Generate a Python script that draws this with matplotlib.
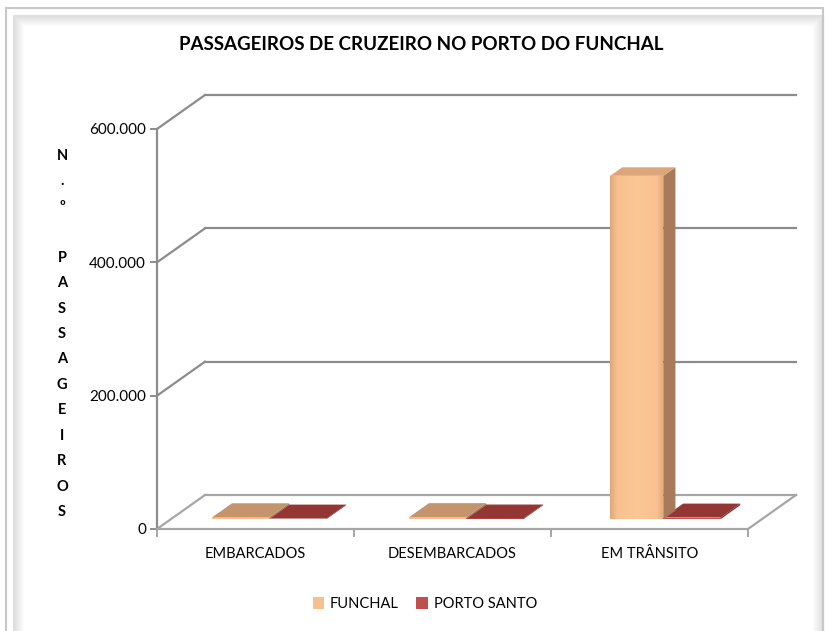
import numpy as np
import matplotlib.pyplot as plt
from matplotlib.patches import Polygon, Rectangle, Patch

plt.rcParams['font.family'] = ['Lato', 'DejaVu Sans']

categories = ['EMBARCADOS', 'DESEMBARCADOS', 'EM TRÂNSITO']
series_names = ['FUNCHAL', 'PORTO SANTO']
funchal = [2900, 3100, 515000]
porto_santo = [900, 1000, 2400]
y_ticks = [0, 200000, 400000, 600000]
y_tick_labels = ['0', '200.000', '400.000', '600.000']

# fake 3d: how far the back wall sits from the front plane, in data units
DEPTH_X = 0.2437
DEPTH_Y = 51000
BAR_W = 0.29
D_FRONT, D_BACK = 0.29, 0.70

front_cols = ['#F9C08F', '#C0504D']
side_cols = ['#A67A5A', '#7A2B29']
top_cols = ['#C4956C', '#943634']
grid_col = '#8C8C8C'
floor_col = '#A6A6A6'


def dep(x, y, d):
  return (x + DEPTH_X * d, y + DEPTH_Y * d)


def draw_bar(ax, left, value, i):
  right = left + BAR_W
  d0, d1 = D_FRONT, D_BACK
  if value > 50000:
    # the tall column is drawn a bit narrower in depth, like the bevelled excel column
    d1 = D_FRONT + 0.25
    left = left + 0.02
  front = [dep(left, 0, d0), dep(right, 0, d0), dep(right, value, d0), dep(left, value, d0)]
  side = [dep(right, 0, d0), dep(right, 0, d1), dep(right, value, d1), dep(right, value, d0)]
  top = [dep(left, value, d0), dep(right, value, d0), dep(right, value, d1), dep(left, value, d1)]
  ax.add_patch(Polygon(side, closed=True, facecolor=side_cols[i], edgecolor='none', clip_on=False, zorder=3))
  ax.add_patch(Polygon(front, closed=True, facecolor=front_cols[i], edgecolor='none', clip_on=False, zorder=3))
  if value > 50000:
    # soft shading across the column face
    x0, y0 = dep(left, 0, d0)
    g = np.linspace(0, 1, 64)
    img = np.zeros((2, 64, 4))
    light = np.clip(np.sin(np.pi * g) ** 2, 0, 1)
    img[..., 0] = 1.0
    img[..., 1] = 0.82
    img[..., 2] = 0.62
    img[..., 3] = 0.35 * light
    ax.imshow(img, extent=[x0, x0 + BAR_W - 0.02, y0, y0 + value], aspect='auto',
              zorder=3.1, clip_on=False, interpolation='bilinear')
    edge = np.zeros((2, 64, 4))
    edge[..., 0] = 0.55
    edge[..., 1] = 0.38
    edge[..., 2] = 0.25
    edge[..., 3] = 0.25 * (1 - np.clip(g * 8, 0, 1)) + 0.25 * np.clip((g - 0.88) * 8, 0, 1)
    ax.imshow(edge, extent=[x0, x0 + BAR_W - 0.02, y0, y0 + value], aspect='auto',
              zorder=3.15, clip_on=False, interpolation='bilinear')
    ax.add_patch(Polygon(top, closed=True, facecolor='#DDA57A', edgecolor='none', clip_on=False, zorder=3.2))
  else:
    ax.add_patch(Polygon(top, closed=True, facecolor=top_cols[i], edgecolor='none', clip_on=False, zorder=3))


fig = plt.figure(figsize=(8.29, 6.31), dpi=100)

# chart frame with a soft inner shadow
for k, a in enumerate(np.linspace(0.10, 0.0, 12)):
  fig.patches.append(Rectangle(((13 + k) / 829, -0.05), (810 - 2 * k) / 829, (616 - k) / 631 + 0.05,
                               transform=fig.transFigure, fill=False, edgecolor='black',
                               alpha=a, linewidth=1))
fig.patches.append(Rectangle((6 / 829, -0.05), 817 / 829, 623 / 631 + 0.05, transform=fig.transFigure,
                             fill=False, edgecolor='#C8C8C8', linewidth=1.5))

ax = fig.add_axes([157 / 829, 102 / 631, 591 / 829, 400 / 631])
x = np.arange(len(categories))
ax.set_xlim(-0.5, len(categories) - 0.5)
ax.set_ylim(0, 600000)

# back wall gridlines and left wall diagonals
for t in y_ticks:
  col = floor_col if t == 0 else grid_col
  ax.plot([dep(-0.5, t, 1)[0], dep(2.5, t, 1)[0]], [dep(-0.5, t, 1)[1]] * 2,
          color=col, lw=1.6, clip_on=False, zorder=1)
  ax.plot([-0.5, dep(-0.5, t, 1)[0]], [t, dep(-0.5, t, 1)[1]],
          color=col, lw=1.6, clip_on=False, zorder=1)
# right edge of the floor
ax.plot([2.5, dep(2.5, 0, 1)[0]], [0, dep(2.5, 0, 1)[1]], color=floor_col, lw=1.6, clip_on=False, zorder=1)

for i, vals in reversed(list(enumerate([funchal, porto_santo]))):
  for xi, v in zip(x, vals):
    draw_bar(ax, xi - BAR_W + i * BAR_W, v, i)

ax.set_xlim(-0.5, len(categories) - 0.5)
ax.set_ylim(0, 600000)
ax.set_facecolor('none')
for s in ['top', 'right']:
  ax.spines[s].set_visible(False)
ax.spines['left'].set_color(grid_col)
ax.spines['left'].set_linewidth(1.6)
ax.spines['bottom'].set_color(floor_col)
ax.spines['bottom'].set_linewidth(1.6)

ax.set_yticks(y_ticks)
ax.set_yticklabels(y_tick_labels, fontsize=11)
ax.tick_params(axis='y', length=5, color=grid_col, width=1.4, pad=3)
ax.set_xticks(x)
ax.set_xticklabels(categories, fontsize=10.5)
ax.set_xticks(np.arange(-0.5, len(categories)), minor=True)
ax.tick_params(axis='x', which='major', length=0, pad=13)
ax.tick_params(axis='x', which='minor', length=6, color=floor_col, width=1.4)

fig.text(421 / 829, 1 - 44 / 631, 'PASSAGEIROS DE CRUZEIRO NO PORTO DO FUNCHAL',
         ha='center', va='center', fontsize=13.5, fontweight='bold')
fig.text(62 / 829, 1 - 334 / 631, 'N\n.\nº\n\nP\nA\nS\nS\nA\nG\nE\nI\nR\nO\nS',
         ha='center', va='center', ma='center', fontsize=10.5, fontweight='bold', linespacing=2.04)

handles = [Patch(facecolor=front_cols[0]), Patch(facecolor=front_cols[1])]
fig.legend(handles, series_names, loc='center', bbox_to_anchor=(425 / 829, 1 - 604 / 631),
           ncol=2, frameon=False, fontsize=10.5, handlelength=0.8, handleheight=0.8,
           handletextpad=0.4, columnspacing=1.2)

fig.savefig('out.png', dpi=100)
